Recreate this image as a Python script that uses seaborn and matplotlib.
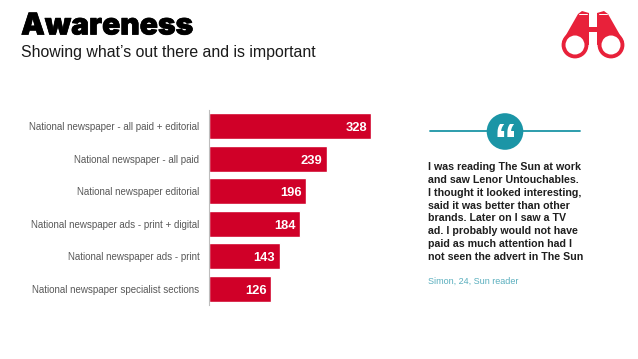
import matplotlib
matplotlib.use("Agg")
import matplotlib.pyplot as plt
import matplotlib.patheffects as pe
from matplotlib.patches import Circle, Polygon
import pandas as pd
import seaborn as sns

categories = [
    "National newspaper - all paid + editorial",
    "National newspaper - all paid",
    "National newspaper editorial",
    "National newspaper ads - print + digital",
    "National newspaper ads - print",
    "National newspaper specialist sections",
]
reach = [328, 239, 196, 184, 143, 126]

quote_lines = [
    "I was reading The Sun at work",
    "and saw Lenor Untouchables.",
    "I thought it looked interesting,",
    "said it was better than other",
    "brands. Later on I saw a TV",
    "ad. I probably would not have",
    "paid as much attention had I",
    "not seen the advert in The Sun",
]

RED = "#D00028"
ICON_RED = "#E8213A"
TEAL = "#1B95A6"
W, H = 638, 359

sns.set_theme(style="white")
plt.rcParams["font.family"] = ["Liberation Sans", "DejaVu Sans"]

df = pd.DataFrame({"category": categories, "reach": reach})

fig = plt.figure(figsize=(W / 100, H / 100), dpi=100)

# Overlay in pixel coordinates for the slide furniture
bg = fig.add_axes([0, 0, 1, 1])
bg.set_xlim(0, W)
bg.set_ylim(H, 0)
bg.axis("off")

# Chart area
ax = fig.add_axes([208.6 / W, 1 - 305 / H, 178.6 / W, 195 / H])
sns.barplot(data=df, x="reach", y="category", color=RED, saturation=1, width=0.79, ax=ax)
ax.set_xlim(0, 360)
ax.set_ylim(5.5, -0.5)
ax.set_xlabel("")
ax.set_ylabel("")
ax.xaxis.set_visible(False)
ax.patch.set_alpha(0)
for side in ["top", "right", "bottom"]:
    ax.spines[side].set_visible(False)
ax.spines["left"].set_color("#BDBDBD")
ax.spines["left"].set_linewidth(0.8)
ax.tick_params(axis="y", length=0, pad=6.6, labelsize=7.0, labelcolor="#595959")

for i, v in enumerate(reach):
    ax.annotate(str(v), (v, i), xytext=(-3.2, -1.3), textcoords="offset points",
                ha="right", va="center", color="white", fontsize=9.3, fontweight="bold")

# Heading
bg.text(21, 26.5, "Awareness", fontsize=21.6, fontweight=900, family="Inter", color="black", va="center",
        path_effects=[pe.withStroke(linewidth=0.5, foreground="black")])
bg.text(21, 52, "Showing what\u2019s out there and is important", fontsize=11.45,
        color="#1a1a1a", va="center")

# Binoculars icon
for cx, body in [
    (575, [(562, 42), (578, 14), (582, 11), (589, 13), (589, 45)]),
    (611, [(624, 42), (608, 14), (604, 11), (597, 13), (597, 45)]),
]:
    bg.add_patch(Polygon(body, closed=True, color=ICON_RED, lw=0))
    bg.add_patch(Circle((cx, 45), 13.4, color=ICON_RED, lw=0))
    bg.add_patch(Circle((cx, 45), 9.5, color="white", lw=0, zorder=3))
bg.add_patch(Polygon([(588, 27), (598, 27), (598, 32), (588, 32)], closed=True, color=ICON_RED, lw=0))
bg.plot([579, 587], [13.5, 13.5], color="white", lw=0.7)
bg.plot([599, 607], [13.5, 13.5], color="white", lw=0.7)

# Quote panel
bg.plot([430, 580], [130.7, 130.7], color=TEAL, lw=1.3)
bg.add_patch(Circle((505, 131.5), 18.3, color=TEAL, lw=0, zorder=3))
bg.text(505, 144, "\u201c", fontsize=34, fontweight="bold", color="white",
        ha="center", va="center", zorder=4)

for i, line in enumerate(quote_lines):
    bg.text(428, 167.3 + i * 12.75, line, fontsize=7.65, fontweight="bold",
            color="#1f1f1f", va="center")
bg.text(428, 281, "Simon, 24, Sun reader", fontsize=6.5, color="#5AAFBE", va="center")

fig.savefig("out.png", dpi=100)
